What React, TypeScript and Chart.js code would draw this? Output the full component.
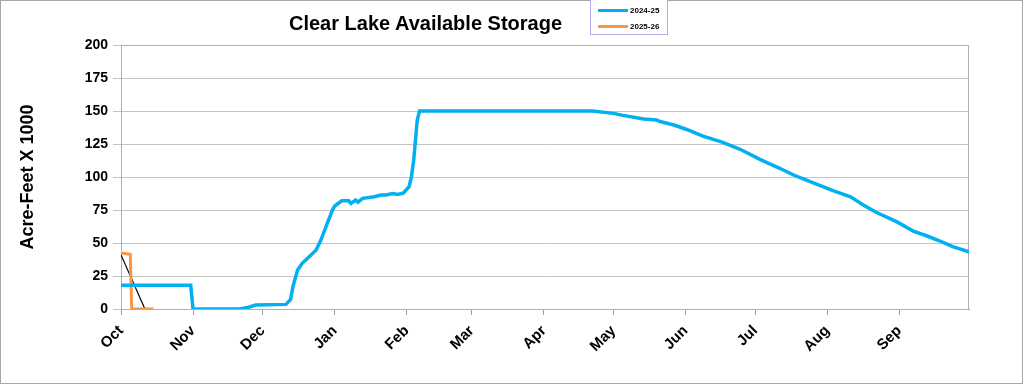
import React, { useEffect, useRef } from "react";
import { Chart, registerables } from "chart.js";

Chart.register(...registerables);

const monthStarts = [0, 31, 61, 92, 123, 151, 182, 212, 243, 273, 304, 335];
const monthLabels = ["Oct", "Nov", "Dec", "Jan", "Feb", "Mar", "Apr", "May", "Jun", "Jul", "Aug", "Sep"];

const blueDays = [0, 30, 31, 51, 55, 58, 71, 73, 74, 76, 78, 81, 84, 86, 88.5, 91, 92, 95, 98, 99, 101, 102, 104, 109, 112, 114, 117, 119, 121.5, 124, 125, 126, 127, 127.5, 128.5, 203, 212, 216, 225, 230.5, 232, 238, 243.5, 250.5, 255, 259, 266.5, 275, 283.5, 289.5, 295, 301, 306.5, 314, 319.5, 325, 334, 341, 347, 352.5, 358, 365];
const blueVals = [18, 18, 0, 0, 1.3, 3, 3.5, 7.3, 17, 29.5, 34.6, 39.6, 44.7, 52, 63.6, 75, 78, 82, 82, 80, 82.6, 81, 83.8, 85, 86.4, 86.4, 87.4, 86.7, 87.7, 92.7, 100, 113, 133, 143, 150, 150, 148.2, 146.7, 144, 143.2, 142, 139.4, 136, 131, 128.5, 126.3, 121, 113.4, 106.6, 101.5, 97.7, 93.4, 89.6, 85, 78.8, 73.3, 66, 59, 55.3, 51.5, 47.2, 43.4];

const orangeDays = [0, 4, 4.6, 14];
const orangeVals = [42.5, 41.5, 0, 0];

const trendDays = [0, 10.3];
const trendVals = [41, 0];

const BLUE = "#00B0F0";
const ORANGE = "#F79646";

const zip = (xs: number[], ys: number[]) => xs.map((x, i) => ({ x, y: ys[i] }));

const framePlugin = {
  id: "frame",
  beforeDatasetsDraw(chart: any) {
    const { ctx, chartArea } = chart;
    ctx.save();
    ctx.strokeStyle = "#b0b0b0";
    ctx.lineWidth = 1;
    ctx.strokeRect(chartArea.left + 0.5, chartArea.top + 0.5, chartArea.right - chartArea.left - 1, chartArea.bottom - chartArea.top);
    ctx.restore();
  },
};

export default function App() {
  const ref = useRef<HTMLCanvasElement | null>(null);

  useEffect(() => {
    if (!ref.current) return;
    const chart = new Chart(ref.current, {
      type: "line",
      data: {
        datasets: [
          { label: "2024-25", data: zip(blueDays, blueVals), borderColor: BLUE, borderWidth: 3.5, pointRadius: 0, tension: 0 },
          { label: "2025-26", data: zip(orangeDays, orangeVals), borderColor: ORANGE, borderWidth: 3, pointRadius: 0, tension: 0 },
          { label: "trend", data: zip(trendDays, trendVals), borderColor: "#000000", borderWidth: 1.2, pointRadius: 0, tension: 0 },
        ],
      },
      options: {
        animation: false,
        responsive: false,
        devicePixelRatio: 1,
        layout: { padding: { left: 0, top: 45, right: 55, bottom: 0 } },
        plugins: { legend: { display: false }, title: { display: false }, tooltip: { enabled: false } },
        scales: {
          x: {
            type: "linear",
            min: 0,
            max: 365,
            afterBuildTicks: (scale: any) => {
              scale.ticks = monthStarts.map((v) => ({ value: v }));
            },
            afterFit: (scale: any) => {
              scale.height = 76;
            },
            ticks: {
              autoSkip: false,
              minRotation: 45,
              maxRotation: 45,
              padding: 7,
              color: "#000",
              font: { family: "Arial, 'Liberation Sans', sans-serif", size: 15, weight: "bold" },
              callback: (value: any) => {
                const i = monthStarts.indexOf(Number(value));
                return i >= 0 ? monthLabels[i] : "";
              },
            },
            grid: { drawOnChartArea: false, drawTicks: true, tickLength: 6, color: "#a0a0a0" },
            border: { display: true, color: "#a0a0a0" },
          },
          y: {
            min: 0,
            max: 200,
            afterFit: (scale: any) => {
              scale.width = 121;
            },
            ticks: {
              stepSize: 25,
              padding: 5,
              color: "#000",
              font: { family: "Arial, 'Liberation Sans', sans-serif", size: 14, weight: "bold" },
            },
            grid: { color: "#c4c4c4", tickLength: 8 },
            border: { display: true, color: "#a0a0a0" },
            title: {
              display: true,
              text: "Acre-Feet X 1000",
              color: "#000",
              padding: { top: 17, bottom: 4 },
              font: { family: "Arial, 'Liberation Sans', sans-serif", size: 18, weight: "bold" },
            },
          },
        },
      },
      plugins: [framePlugin],
    } as any);
    return () => chart.destroy();
  }, []);

  const legendText: React.CSSProperties = {
    fontFamily: "Arial, 'Liberation Sans', sans-serif",
    fontWeight: "bold",
    fontSize: 8,
    color: "#000",
    marginLeft: 2,
  };

  return (
    <div style={{ position: "fixed", left: 0, top: 0, width: 1024, height: 385, background: "#fff" }}>
      <canvas ref={ref} width={1024} height={385} style={{ position: "absolute", left: 0, top: 0, width: 1024, height: 385 }} />
      <div
        style={{
          position: "absolute",
          left: 0,
          top: 0,
          width: 1023,
          height: 384,
          boxSizing: "border-box",
          border: "1px solid #a8a8a8",
          pointerEvents: "none",
        }}
      />
      <div
        style={{
          position: "absolute",
          left: 288,
          top: 11,
          width: 275,
          textAlign: "center",
          whiteSpace: "nowrap",
          fontFamily: "Arial, 'Liberation Sans', sans-serif",
          fontWeight: "bold",
          fontSize: 20,
          lineHeight: "24px",
          color: "#000",
        }}
      >
        Clear Lake Available Storage
      </div>
      <div
        style={{
          position: "absolute",
          left: 590,
          top: -1,
          width: 78,
          height: 36,
          boxSizing: "border-box",
          border: "1px solid #b0b0f0",
          background: "#fff",
        }}
      >
        <div style={{ position: "absolute", left: 7, top: 4, display: "flex", alignItems: "center", height: 12 }}>
          <div style={{ width: 30, height: 3, background: BLUE }} />
          <span style={legendText}>2024-25</span>
        </div>
        <div style={{ position: "absolute", left: 7, top: 20, display: "flex", alignItems: "center", height: 12 }}>
          <div style={{ width: 30, height: 3, background: ORANGE }} />
          <span style={legendText}>2025-26</span>
        </div>
      </div>
    </div>
  );
}
